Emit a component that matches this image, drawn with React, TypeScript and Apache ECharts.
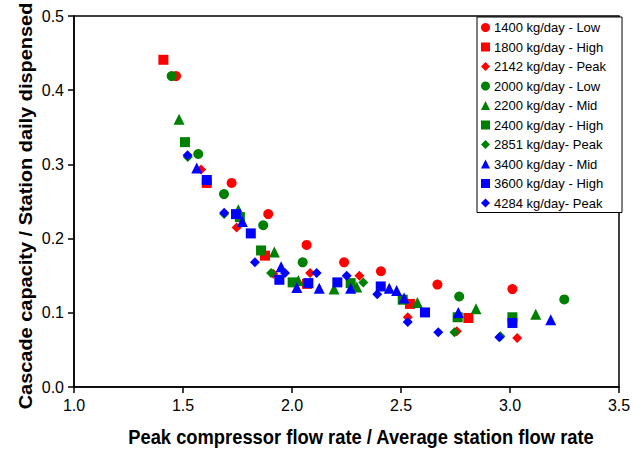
import React, { useEffect, useRef } from "react";
import * as echarts from "echarts";

// Series names (legend order)
const seriesNames = [
  "1400 kg/day - Low",
  "1800 kg/day - High",
  "2142 kg/day - Peak",
  "2000 kg/day - Low",
  "2200 kg/day - Mid",
  "2400 kg/day - High",
  "2851 kg/day- Peak",
  "3400 kg/day - Mid",
  "3600 kg/day - High",
  "4284 kg/day- Peak",
];

// 1400 kg/day - Low
const x1400 = [1.468, 1.723, 1.891, 2.067, 2.239, 2.408, 2.667, 3.011];
const y1400 = [0.419, 0.275, 0.233, 0.1915, 0.168, 0.156, 0.138, 0.132];
// 1800 kg/day - High
const x1800 = [1.41, 1.609, 1.876, 2.069, 2.541, 2.809];
const y1800 = [0.441, 0.275, 0.177, 0.139, 0.112, 0.093];
// 2142 kg/day - Peak
const x2142 = [1.583, 1.746, 1.914, 2.083, 2.309, 2.531, 2.756, 3.033];
const y2142 = [0.293, 0.215, 0.1526, 0.1535, 0.15, 0.094, 0.075, 0.066];
// 2000 kg/day - Low
const x2000 = [1.448, 1.57, 1.688, 1.868, 2.049, 2.767, 3.249];
const y2000 = [0.419, 0.314, 0.26, 0.218, 0.168, 0.122, 0.118];
// 2200 kg/day - Mid
const x2200 = [1.482, 1.754, 1.919, 2.029, 2.193, 2.297, 2.575, 2.844, 3.118];
const y2200 = [0.361, 0.239, 0.182, 0.1435, 0.132, 0.1347, 0.114, 0.1055, 0.098];
// 2400 kg/day - High
const x2400 = [1.509, 1.761, 1.858, 2.003, 2.269, 2.508, 2.76, 3.011];
const y2400 = [0.33, 0.229, 0.184, 0.141, 0.14, 0.1176, 0.094, 0.094];
// 2851 kg/day- Peak
const x2851 = [1.522, 1.689, 1.904, 2.327, 2.745, 2.956];
const y2851 = [0.31, 0.233, 0.1535, 0.141, 0.0737, 0.0685];
// 3400 kg/day - Mid
const x3400 = [1.563, 1.772, 1.95, 2.022, 2.125, 2.269, 2.446, 2.48, 2.514, 2.763, 3.187];
const y3400 = [0.295, 0.223, 0.162, 0.134, 0.133, 0.133, 0.133, 0.13, 0.12, 0.1005, 0.0907];
// 3600 kg/day - High
const x3600 = [1.609, 1.743, 1.811, 1.942, 2.075, 2.208, 2.407, 2.61, 3.011];
const y3600 = [0.279, 0.233, 0.207, 0.1445, 0.14, 0.141, 0.1355, 0.1005, 0.0863];
// 4284 kg/day- Peak
const x4284 = [1.521, 1.689, 1.83, 1.968, 2.113, 2.251, 2.391, 2.531, 2.671, 2.951];
const y4284 = [0.3125, 0.235, 0.168, 0.1535, 0.1535, 0.15, 0.125, 0.0876, 0.0737, 0.067];

const xTicks = [1.0, 1.5, 2.0, 2.5, 3.0, 3.5];
const yTicks = [0.0, 0.1, 0.2, 0.3, 0.4, 0.5];

const xTitle = "Peak compressor flow rate / Average station flow rate";
const yTitle = "Cascade capacity / Station daily dispensed";

const RED = "#FF0000";
const GREEN = "#008000";
const BLUE = "#0000FF";

const seriesData = [
  { xs: x1400, ys: y1400, color: RED, symbol: "circle", size: 10 },
  { xs: x1800, ys: y1800, color: RED, symbol: "rect", size: 10 },
  { xs: x2142, ys: y2142, color: RED, symbol: "diamond", size: 10 },
  { xs: x2000, ys: y2000, color: GREEN, symbol: "circle", size: 10 },
  { xs: x2200, ys: y2200, color: GREEN, symbol: "triangle", size: 11 },
  { xs: x2400, ys: y2400, color: GREEN, symbol: "rect", size: 10 },
  { xs: x2851, ys: y2851, color: GREEN, symbol: "diamond", size: 10 },
  { xs: x3400, ys: y3400, color: BLUE, symbol: "triangle", size: 11 },
  { xs: x3600, ys: y3600, color: BLUE, symbol: "rect", size: 10 },
  { xs: x4284, ys: y4284, color: BLUE, symbol: "diamond", size: 10 },
];

const FONT = "'Liberation Sans', Arial, sans-serif";

export default function App() {
  const ref = useRef<HTMLDivElement>(null);
  useEffect(() => {
    if (!ref.current) return;
    const chart = echarts.init(ref.current, undefined, { renderer: "svg" });
    const option: any = {
      animation: false,
      backgroundColor: "#fff",
      textStyle: { fontFamily: FONT },
      grid: {
        left: 74,
        right: 15,
        top: 16,
        bottom: 64,
        show: true,
        borderColor: "#000",
        borderWidth: 1.5,
        containLabel: false,
      },
      xAxis: {
        type: "value",
        min: xTicks[0],
        max: xTicks[xTicks.length - 1],
        interval: 0.5,
        splitLine: { show: false },
        axisLine: { show: true, onZero: false, lineStyle: { color: "#000", width: 1.5 } },
        axisTick: { show: true, inside: false, length: 6, lineStyle: { color: "#000", width: 1.5 } },
        axisLabel: {
          color: "#000",
          fontSize: 16,
          fontFamily: FONT,
          margin: 10,
          formatter: (v: number) => v.toFixed(1),
        },
      },
      yAxis: {
        type: "value",
        min: yTicks[0],
        max: yTicks[yTicks.length - 1],
        interval: 0.1,
        splitLine: { show: false },
        axisLine: { show: true, onZero: false, lineStyle: { color: "#000", width: 1.5 } },
        axisTick: { show: true, inside: false, length: 6, lineStyle: { color: "#000", width: 1.5 } },
        axisLabel: {
          color: "#000",
          fontSize: 16,
          fontFamily: FONT,
          margin: 10,
          formatter: (v: number) => v.toFixed(1),
        },
      },
      legend: {
        orient: "vertical",
        left: 477,
        top: 17,
        itemWidth: 9,
        itemHeight: 9,
        itemGap: 6.5,
        padding: [4, 16, 3, 4],
        backgroundColor: "#fff",
        borderColor: "#000",
        borderWidth: 1,
        borderRadius: 0,
        textStyle: { color: "#000", fontSize: 13, fontFamily: FONT, padding: [0, 0, 0, -1] },
        data: seriesNames.map((n, i) => ({ name: n, icon: seriesData[i].symbol })),
      },
      graphic: [
        {
          type: "text",
          x: 361,
          y: 437,
          scaleX: 1.02,
          scaleY: 1.12,
          style: {
            text: xTitle,
            fontSize: 18,
            fontWeight: "bold",
            fontFamily: FONT,
            fill: "#000",
            textAlign: "center",
            textVerticalAlign: "middle",
          },
        },
        {
          type: "text",
          x: 25,
          y: 206,
          rotation: Math.PI / 2,
          scaleX: 1.05,
          style: {
            text: yTitle,
            fontSize: 19,
            fontWeight: "bold",
            fontFamily: FONT,
            fill: "#000",
            textAlign: "center",
            textVerticalAlign: "middle",
          },
        },
      ],
      series: seriesData.map((s, i) => ({
        name: seriesNames[i],
        type: "scatter",
        symbol: s.symbol,
        symbolSize: s.size,
        itemStyle: { color: s.color, opacity: 1 },
        emphasis: { disabled: true },
        data: s.xs.map((x, j) => [x, s.ys[j]]),
      })),
    };
    chart.setOption(option);
    return () => chart.dispose();
  }, []);
  return (
    <div
      ref={ref}
      style={{ position: "fixed", left: 0, top: 0, width: 634, height: 451, background: "#fff" }}
    />
  );
}
